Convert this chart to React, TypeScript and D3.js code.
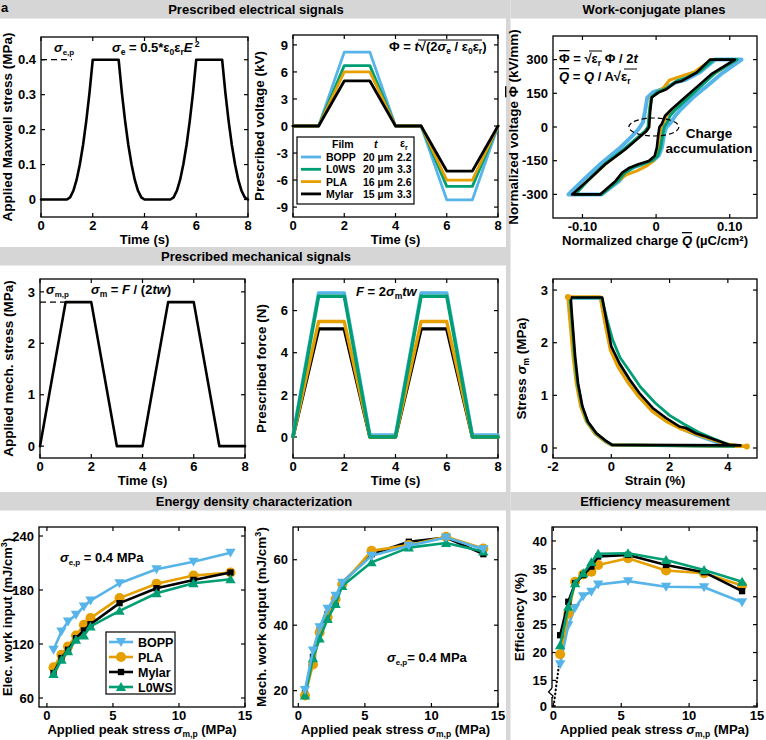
import React from 'react';
import * as d3 from 'd3';

const BLUE = '#56B4E9';
const GREEN = '#009E73';
const ORANGE = '#E69F00';
const BLACK = '#000000';
const FONT = "'Liberation Sans', Arial, Helvetica, sans-serif";
const BANNER = '#d6d6d6';

// ---- prescribed electrical signals ----
const timeKnots = [0, 1, 2, 3, 4, 5, 6, 7, 8];
const rampT = [0, 0.125, 0.25, 0.375, 0.5, 0.625, 0.75, 0.875, 1];
const rampStress = [0, 0.006, 0.025, 0.056, 0.1, 0.156, 0.225, 0.306, 0.4];
const riseStarts = [1, 5];
const fallStarts = [3, 7];

const voltBOPP = [0, 0, 8.2, 8.2, 0, 0, -8.2, -8.2, 0];
const voltL0WS = [0, 0, 6.7, 6.7, 0, 0, -6.7, -6.7, 0];
const voltPLA = [0, 0, 6.0, 6.0, 0, 0, -6.0, -6.0, 0];
const voltMylar = [0, 0, 5.0, 5.0, 0, 0, -5.0, -5.0, 0];

const films = ['BOPP', 'L0WS', 'PLA', 'Mylar'];
const filmThickness = ['20 µm', '20 µm', '16 µm', '15 µm'];
const filmPermittivity = ['2.2', '3.3', '2.6', '3.3'];
const filmColors = [BLUE, GREEN, ORANGE, BLACK];

// ---- prescribed mechanical signals ----
const mechStress = [0, 2.8, 2.8, 0, 0, 2.8, 2.8, 0, 0];
const forceBOPP = [0.1, 6.84, 6.84, 0.1, 0.1, 6.84, 6.84, 0.1, 0.1];
const forceL0WS = [0, 6.68, 6.68, 0, 0, 6.68, 6.68, 0, 0];
const forcePLA = [0, 5.48, 5.48, 0, 0, 5.48, 5.48, 0, 0];
const forceMylar = [0, 5.13, 5.13, 0, 0, 5.13, 5.13, 0, 0];

// ---- work-conjugate loops (charge, voltage) ----
const loopBlack: [number, number][] = [
  [-0.114, -300], [-0.076, -300], [-0.055, -240], [-0.046, -203], [-0.036, -181], [-0.024, -166],
  [-0.010, -151], [-0.002, -129], [0.001, -92], [0.003, -33], [0.0045, 0], [0.008, 15], [0.012, 49],
  [0.021, 79], [0.039, 131], [0.057, 183], [0.075, 235], [0.107, 300], [0.073, 300], [0.055, 242],
  [0.035, 205], [0.026, 198], [0.014, 168], [0.003, 153], [-0.006, 131], [-0.008, 71], [-0.0095, 0],
  [-0.013, -18], [-0.026, -55], [-0.042, -100], [-0.069, -166], [-0.091, -233], [-0.114, -300],
];
const loopBlue: [number, number][] = [
  [-0.119, -300], [-0.074, -300], [-0.050, -240], [-0.040, -200], [-0.030, -178], [-0.016, -163],
  [-0.004, -150], [0.004, -125], [0.008, -90], [0.011, -30], [0.014, 0], [0.020, 20], [0.026, 50],
  [0.034, 80], [0.050, 131], [0.070, 185], [0.090, 240], [0.116, 300], [0.080, 300], [0.060, 245],
  [0.040, 210], [0.028, 200], [0.012, 172], [-0.004, 155], [-0.012, 130], [-0.015, 70], [-0.018, 20],
  [-0.024, -10], [-0.034, -45], [-0.048, -90], [-0.074, -160], [-0.097, -230], [-0.119, -300],
];
const loopGreen: [number, number][] = [
  [-0.110, -300], [-0.074, -300], [-0.052, -240], [-0.042, -203], [-0.032, -181], [-0.020, -166],
  [-0.006, -151], [0.002, -129], [0.006, -92], [0.009, -33], [0.011, 0], [0.015, 20], [0.019, 50],
  [0.027, 80], [0.044, 131], [0.062, 185], [0.080, 240], [0.110, 300], [0.078, 300], [0.060, 250],
  [0.040, 218], [0.028, 205], [0.014, 172], [0.002, 156], [-0.006, 133], [-0.009, 71], [-0.011, 0],
  [-0.015, -18], [-0.028, -55], [-0.044, -100], [-0.070, -166], [-0.091, -233], [-0.110, -300],
];
const loopOrange: [number, number][] = [
  [-0.112, -300], [-0.075, -300], [-0.054, -245], [-0.040, -212], [-0.026, -195], [-0.012, -172],
  [-0.004, -152], [0.000, -129], [0.003, -92], [0.005, -33], [0.007, 0], [0.010, 15], [0.014, 49],
  [0.024, 80], [0.041, 131], [0.059, 183], [0.078, 235], [0.109, 300], [0.075, 300], [0.052, 245],
  [0.030, 222], [0.018, 208], [0.010, 175], [0.002, 154], [-0.007, 131], [-0.009, 71], [-0.010, 0],
  [-0.014, -18], [-0.027, -55], [-0.043, -100], [-0.069, -166], [-0.091, -233], [-0.112, -300],
];

// ---- stress-strain loops (strain %, stress MPa) ----
const ssBlack: [number, number][] = [
  [-1.39, 2.86], [-0.31, 2.86], [-0.17, 2.43], [0, 1.93], [0.28, 1.61], [0.63, 1.3], [0.97, 1.04],
  [1.42, 0.76], [1.88, 0.57], [2.33, 0.41], [2.56, 0.38], [2.9, 0.28], [3.24, 0.22], [3.7, 0.13],
  [4.03, 0.06], [4.43, 0.05], [0.03, 0.06], [-0.17, 0.13], [-0.51, 0.28], [-0.8, 0.5], [-0.99, 0.79],
  [-1.14, 1.23], [-1.24, 1.74], [-1.31, 2.24], [-1.36, 2.6], [-1.39, 2.86],
];
const ssBlue: [number, number][] = [
  [-1.45, 2.85], [-0.36, 2.85], [-0.2, 2.4], [-0.02, 1.9], [0.25, 1.58], [0.6, 1.26], [0.95, 1.0],
  [1.4, 0.72], [1.9, 0.52], [2.4, 0.37], [2.9, 0.25], [3.4, 0.15], [3.9, 0.06], [4.3, 0.03],
  [0.0, 0.06], [-0.2, 0.12], [-0.55, 0.27], [-0.84, 0.5], [-1.03, 0.8], [-1.18, 1.23], [-1.28, 1.74],
  [-1.36, 2.24], [-1.42, 2.6], [-1.45, 2.85],
];
const ssGreen: [number, number][] = [
  [-1.42, 2.85], [-0.33, 2.85], [-0.15, 2.45], [0.05, 2.05], [0.3, 1.72], [0.7, 1.4], [1.0, 1.16],
  [1.5, 0.86], [2.0, 0.62], [2.5, 0.45], [3.0, 0.3], [3.5, 0.18], [4.0, 0.07], [4.2, 0.03],
  [0.02, 0.06], [-0.18, 0.13], [-0.52, 0.28], [-0.82, 0.5], [-1.0, 0.79], [-1.16, 1.23], [-1.26, 1.74],
  [-1.33, 2.24], [-1.38, 2.6], [-1.42, 2.85],
];
const ssOrange: [number, number][] = [
  [-1.49, 2.87], [-0.38, 2.87], [-0.22, 2.38], [-0.03, 1.86], [0.25, 1.52], [0.6, 1.22], [0.95, 0.97],
  [1.4, 0.7], [1.9, 0.5], [2.4, 0.36], [2.9, 0.26], [3.4, 0.17], [3.9, 0.08], [4.3, 0.05], [4.65, 0.03],
  [0.0, 0.06], [-0.22, 0.13], [-0.56, 0.28], [-0.85, 0.5], [-1.05, 0.79], [-1.2, 1.23], [-1.31, 1.74],
  [-1.39, 2.24], [-1.45, 2.6], [-1.49, 2.87],
];

// ---- energy density and efficiency ----
const peakStress = [0.5, 1.1, 1.6, 2.2, 2.8, 3.3, 5.5, 8.3, 11.1, 13.9];

const elecBOPP = [113.6, 134, 145, 152.4, 161.7, 168.3, 187.5, 203, 211.5, 221.5];
const elecPLA = [94, 108, 117.3, 129.5, 141.3, 148.7, 171, 187, 196, 199.4];
const elecMylar = [87.7, 104.4, 113.6, 126.5, 135, 142, 165.4, 182, 191.2, 199.4];
const elecL0WS = [86.6, 102.5, 111.8, 124.7, 129.5, 139.5, 156.8, 176.4, 187.5, 192];

const mechBOPP = [20.2, 32.3, 39.4, 45, 49, 53, 61.2, 64.3, 66.8, 63.2];
const mechPLA = [18.5, 28, 37.8, 42.4, 48, 52.5, 62.7, 64.5, 67, 63.4];
const mechMylar = [19.2, 30.3, 38.4, 43.4, 47, 53, 61.7, 65.5, 66.8, 61.7];
const mechL0WS = [18.5, 29.9, 35.9, 41.9, 46.5, 52, 59.2, 63.7, 65.1, 62.5];

const effBOPP = [17.9, 24.9, 28, 30.1, 30.9, 32.2, 32.8, 31.8, 31.7, 29];
const effPLA = [19.7, 27, 32.7, 34, 34.5, 35.7, 36.9, 34.7, 34.2, 32];
const effMylar = [23.1, 29.1, 32.4, 33.9, 35.4, 37.2, 37.5, 35.7, 34.4, 31];
const effL0WS = [21.3, 28.2, 32.4, 34.2, 36.2, 37.7, 37.8, 36.6, 34.8, 32.7];
const effExtrapX = [0.02, 0.45];
const effExtrapY = [0, 18.5];

type Box = { x0: number; x1: number; y0: number; y1: number };
type Scale = (v: number) => number;

const pair = (xs: number[], ys: number[]): [number, number][] => xs.map((v, i) => [v, ys[i]]);

function maxwellSeries(): [number, number][] {
  const pts: [number, number][] = [[0, 0]];
  [riseStarts[0], fallStarts[0], riseStarts[1], fallStarts[1]].forEach((s, k) => {
    const rising = k % 2 === 0;
    rampT.forEach((t, i) => {
      pts.push([s + t, rising ? rampStress[i] : rampStress[rampStress.length - 1 - i]]);
    });
  });
  return pts;
}

function Frame(props: {
  box: Box; x: Scale; y: Scale;
  xTicks: number[]; yTicks: number[];
  xLabels: string[]; yLabels: string[];
  xTitle: React.ReactNode; yTitle: React.ReactNode; titleGap?: number; titleSize?: number;
}) {
  const { box, x, y, xTicks, yTicks, xLabels, yLabels } = props;
  const tl = 4;
  const cx = (box.x0 + box.x1) / 2;
  const cy = (box.y0 + box.y1) / 2;
  const gap = props.titleGap ?? 28;
  return (
    <g fontFamily={FONT} fontWeight="bold">
      {xTicks.map((t, i) => (
        <g key={'x' + i}>
          <line x1={x(t)} x2={x(t)} y1={box.y1} y2={box.y1 - tl} stroke="#000" strokeWidth={1.2} />
          <line x1={x(t)} x2={x(t)} y1={box.y0} y2={box.y0 + tl} stroke="#000" strokeWidth={1.2} />
          <text x={x(t)} y={box.y1 + 13} textAnchor="middle" fontSize={13}>{xLabels[i]}</text>
        </g>
      ))}
      {yTicks.map((t, i) => (
        <g key={'y' + i}>
          <line x1={box.x0} x2={box.x0 + tl} y1={y(t)} y2={y(t)} stroke="#000" strokeWidth={1.2} />
          <line x1={box.x1} x2={box.x1 - tl} y1={y(t)} y2={y(t)} stroke="#000" strokeWidth={1.2} />
          <text x={box.x0 - 5} y={y(t)} dy="0.36em" textAnchor="end" fontSize={13}>{yLabels[i]}</text>
        </g>
      ))}
      <rect x={box.x0} y={box.y0} width={box.x1 - box.x0} height={box.y1 - box.y0}
        fill="none" stroke="#000" strokeWidth={1.3} />
      <text x={cx} y={box.y1 + 27} textAnchor="middle" fontSize={13}>{props.xTitle}</text>
      <text transform={`translate(${box.x0 - gap},${cy}) rotate(-90)`} textAnchor="middle"
        fontSize={props.titleSize ?? 13.5}>
        {props.yTitle}
      </text>
    </g>
  );
}

function Curve({ pts, x, y, color, width, curve }: {
  pts: [number, number][]; x: Scale; y: Scale; color: string; width: number; curve?: d3.CurveFactory;
}) {
  const gen = d3.line<[number, number]>().x(d => x(d[0])).y(d => y(d[1])).curve(curve || d3.curveLinear);
  return <path d={gen(pts) || ''} fill="none" stroke={color} strokeWidth={width}
    strokeLinejoin="round" strokeLinecap="round" />;
}

const symPaths: Record<string, string> = {
  down: d3.symbol().type(d3.symbolTriangle).size(46)() || '',
  up: d3.symbol().type(d3.symbolTriangle).size(46)() || '',
  circle: d3.symbol().type(d3.symbolCircle).size(80)() || '',
  square: d3.symbol().type(d3.symbolSquare).size(40)() || '',
};

function Marker({ kind, cx, cy, color }: { kind: string; cx: number; cy: number; color: string }) {
  const rot = kind === 'down' ? ' rotate(180)' : '';
  const dy = kind === 'down' ? -1 : kind === 'up' ? 1 : 0;
  return <path d={symPaths[kind]} transform={`translate(${cx},${cy + dy})${rot}`} fill={color} />;
}

function Series({ xs, ys, x, y, color, kind }: {
  xs: number[]; ys: number[]; x: Scale; y: Scale; color: string; kind: string;
}) {
  return (
    <g>
      <Curve pts={pair(xs, ys)} x={x} y={y} color={color} width={2.6} />
      {xs.map((v, i) => <Marker key={i} kind={kind} cx={x(v)} cy={y(ys[i])} color={color} />)}
    </g>
  );
}

// subscript that does not disturb the baseline of what follows
const Sub = ({ children, size = 8.5 }: { children: React.ReactNode; size?: number }) => (
  <tspan baselineShift="-3" fontSize={size}>{children}</tspan>
);

function Banner({ x0, x1, y, label, cx }: { x0: number; x1: number; y: number; label: string; cx: number }) {
  return (
    <g>
      <rect x={x0} y={y} width={x1 - x0} height={18.5} fill={BANNER} />
      <text x={cx} y={y + 14} textAnchor="middle" fontFamily={FONT} fontWeight="bold" fontSize={13}>
        {label}
      </text>
    </g>
  );
}

const num = (v: number) => String(v);

export default function App() {
  // panel boxes
  const bA: Box = { x0: 41, x1: 248, y0: 37, y1: 217 };
  const bB: Box = { x0: 293, x1: 498, y0: 35, y1: 217 };
  const bC: Box = { x0: 553, x1: 757, y0: 36, y1: 218 };
  const bD: Box = { x0: 40, x1: 245, y0: 279, y1: 458 };
  const bE: Box = { x0: 293, x1: 498, y0: 279, y1: 458 };
  const bF: Box = { x0: 553, x1: 757, y0: 279, y1: 458 };
  const bG: Box = { x0: 39, x1: 245, y0: 527, y1: 707 };
  const bH: Box = { x0: 293, x1: 498, y0: 527, y1: 707 };
  const bI: Box = { x0: 552, x1: 757, y0: 527, y1: 707 };

  const xA = d3.scaleLinear().domain([0, 8]).range([bA.x0, bA.x1]);
  const yA = d3.scaleLinear().domain([-0.05, 0.465]).range([bA.y1, bA.y0]);
  const xB = d3.scaleLinear().domain([0, 8]).range([bB.x0, bB.x1]);
  const yB = d3.scaleLinear().domain([-10.1, 10.1]).range([bB.y1, bB.y0]);
  const xC = d3.scaleLinear().domain([-0.14, 0.137]).range([bC.x0, bC.x1]);
  const yC = d3.scaleLinear().domain([-405, 405]).range([bC.y1, bC.y0]);
  const xD = d3.scaleLinear().domain([0, 8]).range([bD.x0, bD.x1]);
  const yD = d3.scaleLinear().domain([-0.23, 3.25]).range([bD.y1, bD.y0]);
  const xE = d3.scaleLinear().domain([0, 8]).range([bE.x0, bE.x1]);
  const yE = d3.scaleLinear().domain([-1, 7.5]).range([bE.y1, bE.y0]);
  const xF = d3.scaleLinear().domain([-2, 5]).range([bF.x0, bF.x1]);
  const yF = d3.scaleLinear().domain([-0.19, 3.21]).range([bF.y1, bF.y0]);
  const xG = d3.scaleLinear().domain([-0.6, 15]).range([bG.x0, bG.x1]);
  const yG = d3.scaleLinear().domain([50, 250]).range([bG.y1, bG.y0]);
  const xH = d3.scaleLinear().domain([-0.4, 15]).range([bH.x0, bH.x1]);
  const yH = d3.scaleLinear().domain([15, 70]).range([bH.y1, bH.y0]);
  const xI = d3.scaleLinear().domain([-0.1, 15]).range([bI.x0, bI.x1]);
  // broken axis: 0–14 compressed into the bottom strip
  const yI = d3.scaleLinear().domain([0, 14, 42.5]).range([bI.y1 - 1, 686, bI.y0]);

  const voltSeries = [voltBOPP, voltL0WS, voltPLA, voltMylar];
  const forceOrder = [
    { v: forceBOPP, c: BLUE }, { v: forceMylar, c: BLACK }, { v: forcePLA, c: ORANGE }, { v: forceL0WS, c: GREEN },
  ];

  const timeTicks = [0, 2, 4, 6, 8];
  const energyTicks = [0, 5, 10, 15];

  const legendG = [
    { n: 'BOPP', c: BLUE, k: 'down' }, { n: 'PLA', c: ORANGE, k: 'circle' },
    { n: 'Mylar', c: BLACK, k: 'square' }, { n: 'L0WS', c: GREEN, k: 'up' },
  ];

  const peakTitle = (
    <>Applied peak stress <tspan fontStyle="italic">σ</tspan><Sub>m,p</Sub> (MPa)</>
  );
  const cube = (label: string) => (
    <>{label} (mJ/cm<tspan baselineShift="5" fontSize={9}>3</tspan>)</>
  );

  return (
    <svg width={766} height={740} style={{ position: 'absolute', left: 0, top: 0, background: '#fff' }}
      fontFamily={FONT}>
      <rect width={766} height={740} fill="#fff" />

      {/* section banners and column divider */}
      <rect x={506} y={0} width={4.5} height={740} fill={BANNER} />
      <Banner x0={0} x1={506} y={0} cx={256} label="Prescribed electrical signals" />
      <Banner x0={510.5} x1={766} y={0} cx={654} label="Work-conjugate planes" />
      <Banner x0={0} x1={506} y={247} cx={256} label="Prescribed mechanical signals" />
      <Banner x0={0} x1={506} y={492} cx={254} label="Energy density characterization" />
      <Banner x0={510.5} x1={766} y={492} cx={655} label="Efficiency measurement" />
      <text x={1} y={12} fontSize={13} fontWeight="bold">a</text>

      {/* Maxwell stress */}
      <Frame box={bA} x={xA} y={yA} xTicks={timeTicks} xLabels={timeTicks.map(num)}
        yTicks={[0, 0.1, 0.2, 0.3, 0.4]} yLabels={['0', '0.1', '0.2', '0.3', '0.4']}
        xTitle="Time (s)" yTitle="Applied Maxwell stress (MPa)" titleGap={29} />
      <line x1={bA.x0} x2={xA(1.2)} y1={yA(0.4)} y2={yA(0.4)} stroke="#000" strokeWidth={1.3} strokeDasharray="6,4" />
      <Curve pts={maxwellSeries()} x={xA} y={yA} color={BLACK} width={2.6} />
      <text x={54} y={52} fontSize={13} fontWeight="bold">
        <tspan fontStyle="italic">σ</tspan><Sub size={8}>e,p</Sub>
      </text>
      <text x={112} y={52} fontSize={13} fontWeight="bold">
        <tspan fontStyle="italic">σ</tspan><Sub>e</Sub> = 0.5*ε<Sub>0</Sub>ε<Sub>r</Sub><tspan fontStyle="italic">E</tspan>
        <tspan baselineShift="5" fontSize={8.5}> 2</tspan>
      </text>

      {/* prescribed voltage */}
      <Frame box={bB} x={xB} y={yB} xTicks={timeTicks} xLabels={timeTicks.map(num)}
        yTicks={[-9, -6, -3, 0, 3, 6, 9]} yLabels={['-9', '-6', '-3', '0', '3', '6', '9']}
        xTitle="Time (s)" yTitle="Prescribed voltage (kV)" titleGap={29} />
      {voltSeries.map((v, i) => (
        <Curve key={i} pts={pair(timeKnots, v)} x={xB} y={yB} color={filmColors[i]} width={2.8} />
      ))}
      <text x={389} y={51} fontSize={13} fontWeight="bold">
        Φ = <tspan fontStyle="italic">t</tspan>√(2<tspan fontStyle="italic">σ</tspan><Sub>e</Sub> / ε<Sub>0</Sub>ε<Sub>r</Sub>)
      </text>
      <line x1={418} x2={482} y1={40} y2={40} stroke="#000" strokeWidth={1.1} />
      <g>
        <rect x={297} y={137} width={117} height={67} fill="#fff" stroke="#000" strokeWidth={1.2} />
        <g fontSize={10.5} fontWeight="bold">
          <text x={332} y={148}>Film</text>
          <text x={374} y={148} fontStyle="italic">t</text>
          <text x={400} y={147}>ε<Sub size={7}>r</Sub></text>
          {films.map((f, i) => {
            const yy = 161 + i * 12.3;
            return (
              <g key={f}>
                <line x1={301} x2={321} y1={yy - 4} y2={yy - 4} stroke={filmColors[i]} strokeWidth={2.8} />
                <text x={326} y={yy}>{f}</text>
                <text x={363} y={yy}>{filmThickness[i]}</text>
                <text x={397} y={yy}>{filmPermittivity[i]}</text>
              </g>
            );
          })}
        </g>
      </g>

      {/* work-conjugate plane */}
      <Frame box={bC} x={xC} y={yC} xTicks={[-0.1, 0, 0.1]} xLabels={['-0.10', '0', '0.10']}
        yTicks={[-300, -150, 0, 150, 300]} yLabels={['-300', '-150', '0', '150', '300']}
        xTitle={<>Normalized charge <tspan fontStyle="italic" textDecoration="overline">Q</tspan> (µC/cm²)</>}
        yTitle={<>Normalized voltage <tspan textDecoration="overline">Φ</tspan> (kV/mm)</>} titleGap={35} />
      <Curve pts={loopBlue} x={xC} y={yC} color={BLUE} width={4} />
      <Curve pts={loopOrange} x={xC} y={yC} color={ORANGE} width={3} />
      <Curve pts={loopGreen} x={xC} y={yC} color={GREEN} width={3} />
      <Curve pts={loopBlack} x={xC} y={yC} color={BLACK} width={2.6} />
      <ellipse cx={xC(-0.003)} cy={yC(0)} rx={25} ry={9} fill="none" stroke="#000" strokeWidth={1.2} strokeDasharray="5,3" />
      <text x={709} y={138} textAnchor="middle" fontSize={13.5} fontWeight="bold">Charge</text>
      <text x={709} y={153} textAnchor="middle" fontSize={13.5} fontWeight="bold">accumulation</text>
      <text x={559} y={63} fontSize={13} fontWeight="bold">
        <tspan textDecoration="overline">Φ</tspan> = √ε<Sub>r</Sub> Φ / 2<tspan fontStyle="italic">t</tspan>
      </text>
      <line x1={589} x2={602} y1={51} y2={51} stroke="#000" strokeWidth={1} />
      <text x={559} y={81} fontSize={13} fontWeight="bold">
        <tspan fontStyle="italic" textDecoration="overline">Q</tspan> = <tspan fontStyle="italic">Q</tspan> / A√ε<Sub>r</Sub>
      </text>
      <line x1={624} x2={637} y1={69} y2={69} stroke="#000" strokeWidth={1} />

      {/* applied mechanical stress */}
      <Frame box={bD} x={xD} y={yD} xTicks={timeTicks} xLabels={timeTicks.map(num)}
        yTicks={[0, 1, 2, 3]} yLabels={['0', '1', '2', '3']}
        xTitle="Time (s)" yTitle="Applied mech. stress (MPa)" titleGap={27} />
      <line x1={bD.x0} x2={xD(1)} y1={yD(2.8)} y2={yD(2.8)} stroke="#000" strokeWidth={1.3} strokeDasharray="6,4" />
      <Curve pts={pair(timeKnots, mechStress)} x={xD} y={yD} color={BLACK} width={2.6} />
      <text x={46} y={294} fontSize={13} fontWeight="bold">
        <tspan fontStyle="italic">σ</tspan><Sub size={8}>m,p</Sub>
      </text>
      <text x={91} y={294} fontSize={13} fontWeight="bold">
        <tspan fontStyle="italic">σ</tspan><Sub>m</Sub> = <tspan fontStyle="italic">F</tspan> / (2<tspan fontStyle="italic">tw</tspan>)
      </text>

      {/* prescribed force */}
      <Frame box={bE} x={xE} y={yE} xTicks={timeTicks} xLabels={timeTicks.map(num)}
        yTicks={[0, 2, 4, 6]} yLabels={['0', '2', '4', '6']}
        xTitle="Time (s)" yTitle="Prescribed force (N)" titleGap={27} />
      {forceOrder.map((f, i) => (
        <Curve key={i} pts={pair(timeKnots, f.v)} x={xE} y={yE} color={f.c} width={3.4} />
      ))}
      <text x={356} y={296} fontSize={13} fontWeight="bold">
        <tspan fontStyle="italic">F</tspan> = 2<tspan fontStyle="italic">σ</tspan><Sub>m</Sub><tspan fontStyle="italic">tw</tspan>
      </text>

      {/* stress-strain loop */}
      <Frame box={bF} x={xF} y={yF} xTicks={[-2, 0, 2, 4]} xLabels={['-2', '0', '2', '4']}
        yTicks={[0, 1, 2, 3]} yLabels={['0', '1', '2', '3']}
        xTitle="Strain (%)" yTitle={<>Stress <tspan fontStyle="italic">σ</tspan><Sub>m</Sub> (MPa)</>} titleGap={27} />
      <Curve pts={ssBlue} x={xF} y={yF} color={BLUE} width={3.4} />
      <Curve pts={ssOrange} x={xF} y={yF} color={ORANGE} width={3.2} />
      <Curve pts={ssGreen} x={xF} y={yF} color={GREEN} width={2.8} />
      <Curve pts={ssBlack} x={xF} y={yF} color={BLACK} width={2.6} />
      <circle cx={xF(ssOrange[0][0])} cy={yF(ssOrange[0][1])} r={3} fill={ORANGE} />
      <circle cx={xF(4.65)} cy={yF(0.03)} r={3} fill={ORANGE} />

      {/* electrical work input */}
      <Frame box={bG} x={xG} y={yG} xTicks={energyTicks} xLabels={energyTicks.map(num)}
        yTicks={[60, 120, 180, 240]} yLabels={['60', '120', '180', '240']}
        xTitle={peakTitle} yTitle={cube('Elec. work input')} titleGap={27.5} titleSize={13} />
      <Series xs={peakStress} ys={elecBOPP} x={xG} y={yG} color={BLUE} kind="down" />
      <Series xs={peakStress} ys={elecPLA} x={xG} y={yG} color={ORANGE} kind="circle" />
      <Series xs={peakStress} ys={elecMylar} x={xG} y={yG} color={BLACK} kind="square" />
      <Series xs={peakStress} ys={elecL0WS} x={xG} y={yG} color={GREEN} kind="up" />
      <text x={60} y={562} fontSize={13} fontWeight="bold">
        <tspan fontStyle="italic">σ</tspan><Sub size={8}>e,p</Sub> = 0.4 MPa
      </text>
      <rect x={106} y={632} width={69} height={62} fill="#fff" stroke="#000" strokeWidth={1.2} />
      {legendG.map((l, i) => {
        const yy = 642 + i * 15;
        return (
          <g key={l.n}>
            <line x1={109} x2={133} y1={yy} y2={yy} stroke={l.c} strokeWidth={2.6} />
            <Marker kind={l.k} cx={121} cy={yy} color={l.c} />
            <text x={138} y={yy} dy="0.36em" fontSize={12.5} fontWeight="bold">{l.n}</text>
          </g>
        );
      })}

      {/* mechanical work output */}
      <Frame box={bH} x={xH} y={yH} xTicks={energyTicks} xLabels={energyTicks.map(num)}
        yTicks={[20, 40, 60]} yLabels={['20', '40', '60']}
        xTitle={peakTitle} yTitle={cube('Mech. work output')} titleGap={27} />
      <Series xs={peakStress} ys={mechMylar} x={xH} y={yH} color={BLACK} kind="square" />
      <Series xs={peakStress} ys={mechPLA} x={xH} y={yH} color={ORANGE} kind="circle" />
      <Series xs={peakStress} ys={mechL0WS} x={xH} y={yH} color={GREEN} kind="up" />
      <Series xs={peakStress} ys={mechBOPP} x={xH} y={yH} color={BLUE} kind="down" />
      <text x={387} y={662} fontSize={13} fontWeight="bold">
        <tspan fontStyle="italic">σ</tspan><Sub size={8}>e,p</Sub>= 0.4 MPa
      </text>

      {/* efficiency */}
      <Frame box={bI} x={xI} y={yI} xTicks={energyTicks} xLabels={energyTicks.map(num)}
        yTicks={[0, 15, 20, 25, 30, 35, 40]} yLabels={['0', '15', '20', '25', '30', '35', '40']}
        xTitle={peakTitle} yTitle="Efficiency (%)" titleGap={28} />
      <rect x={bI.x0 - 2} y={688} width={4} height={9} fill="#fff" />
      <path d={`M${bI.x0},688 L${bI.x0 - 3.5},692 L${bI.x0 + 1},696 L${bI.x0},698`} fill="none" stroke="#000" strokeWidth={1.2} />
      <path d={d3.line()(pair(effExtrapX, effExtrapY).map(d => [xI(d[0]), yI(d[1])] as [number, number])) || ''}
        fill="none" stroke="#000" strokeWidth={2.2} strokeDasharray="0.5,3.5" strokeLinecap="round" />
      <Series xs={peakStress} ys={effBOPP} x={xI} y={yI} color={BLUE} kind="down" />
      <Series xs={peakStress} ys={effPLA} x={xI} y={yI} color={ORANGE} kind="circle" />
      <Series xs={peakStress} ys={effMylar} x={xI} y={yI} color={BLACK} kind="square" />
      <Series xs={peakStress} ys={effL0WS} x={xI} y={yI} color={GREEN} kind="up" />
    </svg>
  );
}
